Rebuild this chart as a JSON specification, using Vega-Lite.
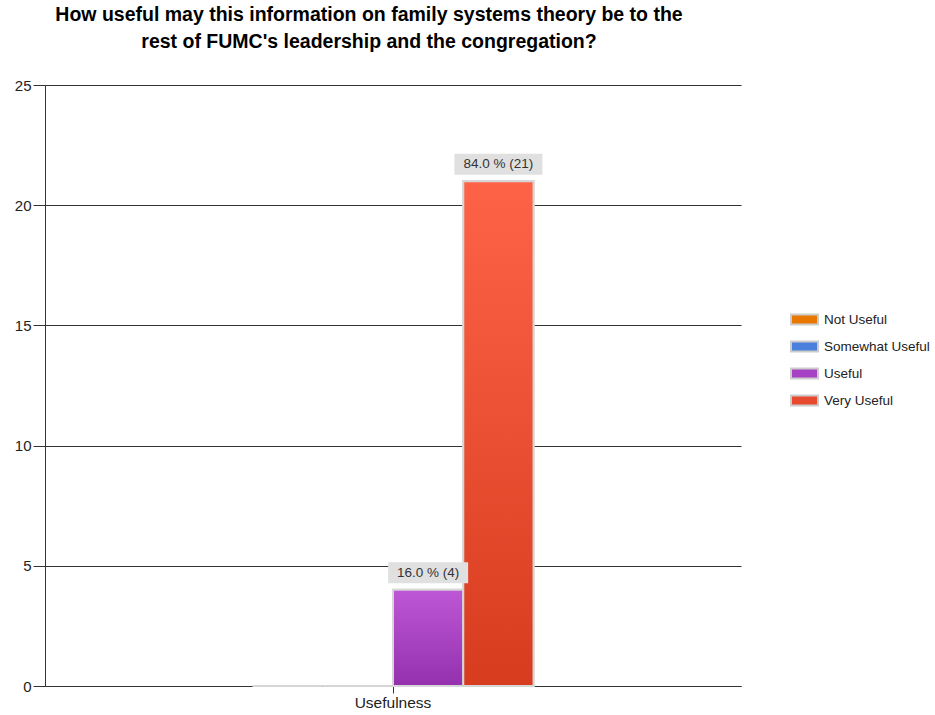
{
  "$schema": "https://vega.github.io/schema/vega-lite/v6.json",
  "autosize": {"type": "none"},
  "width": 696,
  "height": 601,
  "padding": {"left": 45, "top": 85, "right": 194, "bottom": 29},
  "background": "white",
  "title": {
    "text": ["How useful may this information on family systems theory be to the", "rest of FUMC's leadership and the congregation?"],
    "font": "Liberation Sans",
    "fontSize": 19.5,
    "fontWeight": "bold",
    "color": "#000000",
    "anchor": "middle",
    "dx": -24,
    "offset": 26,
    "lineHeight": 27
  },
  "data": {
    "values": [
      {"category": "Usefulness", "response": "Not Useful", "count": 0, "label": ""},
      {"category": "Usefulness", "response": "Somewhat Useful", "count": 0, "label": ""},
      {"category": "Usefulness", "response": "Useful", "count": 4, "label": "16.0 % (4)"},
      {"category": "Usefulness", "response": "Very Useful", "count": 21, "label": "84.0 % (21)"}
    ]
  },
  "encoding": {
    "x": {
      "field": "category",
      "type": "nominal",
      "scale": {"paddingInner": 0, "paddingOuter": 0.738},
      "axis": {
        "title": null,
        "labelAngle": 0,
        "labelFont": "Liberation Sans",
        "labelFontSize": 15.5,
        "labelColor": "#222222",
        "labelPadding": 2,
        "tickSize": 7,
        "tickColor": "#333333",
        "domainColor": "#333333",
        "grid": false
      }
    },
    "xOffset": {
      "field": "response",
      "type": "nominal",
      "scale": {"domain": ["Not Useful", "Somewhat Useful", "Useful", "Very Useful"], "paddingInner": 0, "paddingOuter": 0}
    },
    "y": {
      "field": "count",
      "type": "quantitative",
      "scale": {"domain": [0, 25], "nice": false},
      "axis": {
        "title": null,
        "values": [0, 5, 10, 15, 20, 25],
        "grid": true,
        "gridColor": "#333333",
        "gridOpacity": 1,
        "domainColor": "#333333",
        "tickColor": "#333333",
        "tickSize": 12,
        "labelFont": "Liberation Sans",
        "labelFontSize": 15,
        "labelColor": "#222222",
        "labelPadding": 2
      }
    }
  },
  "layer": [
    {
      "mark": {"type": "bar", "stroke": "#d6d6d6", "strokeWidth": 2},
      "encoding": {
        "color": {
          "field": "response",
          "type": "nominal",
          "scale": {
            "domain": ["Not Useful", "Somewhat Useful", "Useful", "Very Useful"],
            "range": ["#E87800", "#4A7FDB", "#A741C4", "#E84A30"]
          },
          "legend": {
            "title": null,
            "orient": "none",
            "legendX": 745,
            "legendY": 220,
            "symbolType": "M-1,-0.37H1V0.37H-1Z",
            "symbolSize": 729,
            "symbolStrokeColor": "#cccccc",
            "symbolStrokeWidth": 2,
            "symbolOpacity": 1,
            "labelFont": "Liberation Sans",
            "labelFontSize": 13.5,
            "labelColor": "#222222",
            "labelOffset": 5,
            "rowPadding": 3
          }
        }
      }
    },
    {
      "transform": [{"filter": "datum.response === 'Useful'"}],
      "mark": {
        "type": "bar",
        "stroke": "#d6d6d6",
        "strokeWidth": 2,
        "color": {
          "gradient": "linear", "x1": 0, "y1": 0, "x2": 0, "y2": 1,
          "stops": [{"offset": 0, "color": "#BE57D6"}, {"offset": 1, "color": "#9430AE"}]
        }
      },
      "encoding": {}
    },
    {
      "transform": [{"filter": "datum.response === 'Very Useful'"}],
      "mark": {
        "type": "bar",
        "stroke": "#d6d6d6",
        "strokeWidth": 2,
        "color": {
          "gradient": "linear", "x1": 0, "y1": 0, "x2": 0, "y2": 1,
          "stops": [{"offset": 0, "color": "#FF6347"}, {"offset": 1, "color": "#D73C1F"}]
        }
      },
      "encoding": {}
    },
    {
      "transform": [{"filter": "datum.count > 0"}],
      "mark": {"type": "tick", "color": "#e0e0e0", "thickness": 21, "yOffset": -17, "opacity": 1},
      "encoding": {
        "size": {
          "field": "label",
          "type": "ordinal",
          "scale": {"domain": ["16.0 % (4)", "84.0 % (21)"], "range": [80, 88]},
          "legend": null
        }
      }
    },
    {
      "transform": [{"filter": "datum.count > 0"}],
      "mark": {"type": "text", "font": "Liberation Sans", "fontSize": 13.5, "color": "#333333", "baseline": "middle", "yOffset": -17},
      "encoding": {"text": {"field": "label"}}
    }
  ],
  "config": {"view": {"stroke": null}}
}
